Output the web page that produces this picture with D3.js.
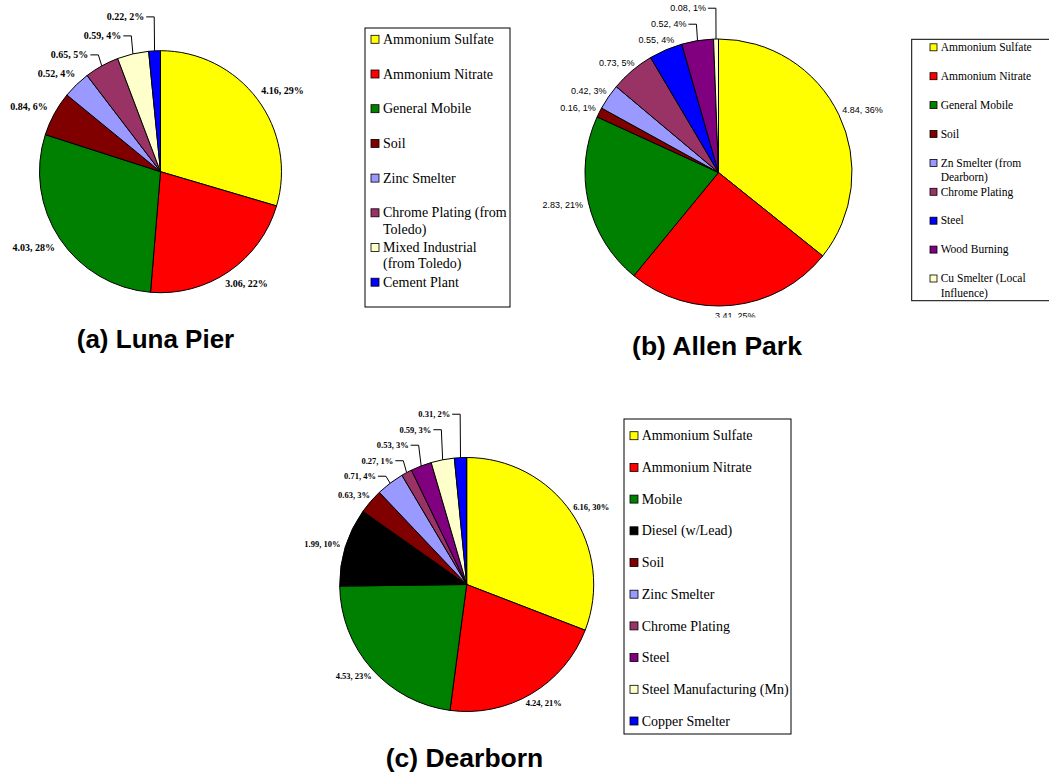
<!DOCTYPE html>
<html>
<head>
<meta charset="utf-8">
<script src="https://cdn.jsdelivr.net/npm/d3@7"></script>
<style>
  html, body { margin: 0; padding: 0; background: #fff; }
  svg { display: block; }
</style>
</head>
<body>
<svg id="chart" width="1049" height="772"></svg>
<script>
// ---------------- DATA ----------------
// (a) Luna Pier
const lunaCategories = ["Ammonium Sulfate", "Ammonium Nitrate", "General Mobile", "Soil",
  "Zinc Smelter", "Chrome Plating (from\nToledo)", "Mixed Industrial\n(from Toledo)", "Cement Plant"];
const lunaValues = [4.16, 3.06, 4.03, 0.84, 0.52, 0.65, 0.59, 0.22];
const lunaPercents = ["29%", "22%", "28%", "6%", "4%", "5%", "4%", "2%"];

// (b) Allen Park
const allenCategories = ["Ammonium Sulfate", "Ammonium Nitrate", "General Mobile", "Soil",
  "Zn Smelter (from\nDearborn)", "Chrome Plating", "Steel", "Wood Burning", "Cu Smelter (Local\nInfluence)"];
const allenValues = [4.84, 3.41, 2.83, 0.16, 0.42, 0.73, 0.55, 0.52, 0.08];
const allenPercents = ["36%", "25%", "21%", "1%", "3%", "5%", "4%", "4%", "1%"];

// (c) Dearborn
const dearbornCategories = ["Ammonium Sulfate", "Ammonium Nitrate", "Mobile", "Diesel (w/Lead)", "Soil",
  "Zinc Smelter", "Chrome Plating", "Steel", "Steel Manufacturing (Mn)", "Copper Smelter"];
const dearbornValues = [6.16, 4.24, 4.53, 1.99, 0.63, 0.71, 0.27, 0.53, 0.59, 0.31];
const dearbornPercents = ["30%", "21%", "23%", "10%", "3%", "4%", "1%", "3%", "3%", "2%"];

const chartTitles = ["(a) Luna Pier", "(b) Allen Park", "(c) Dearborn"];

// ---------------- STYLE ----------------
const C = {
  yellow: "#FFFF00", red: "#FF0000", green: "#008000", maroon: "#800000",
  lavender: "#9999FF", plum: "#993366", cream: "#FFFFCC", blue: "#0000FF",
  purple: "#800080", black: "#000000"
};
const lunaColors = [C.yellow, C.red, C.green, C.maroon, C.lavender, C.plum, C.cream, C.blue];
const allenColors = [C.yellow, C.red, C.green, C.maroon, C.lavender, C.plum, C.blue, C.purple, C.cream];
const dearbornColors = [C.yellow, C.red, C.green, C.black, C.maroon, C.lavender, C.plum, C.purple, C.cream, C.blue];

const serif = "'Liberation Serif', 'Times New Roman', serif";
const sans = "'Liberation Sans', Arial, Helvetica, sans-serif";

const svg = d3.select("#chart");
svg.append("rect").attr("width", 1049).attr("height", 772).attr("fill", "#fff");

function drawPie(cfg) {
  let g = svg.append("g");
  if (cfg.clip) {
    const id = "clip" + Math.random().toString(36).slice(2);
    svg.append("defs").append("clipPath").attr("id", id)
      .append("rect").attr("x", cfg.clip[0]).attr("y", cfg.clip[1])
      .attr("width", cfg.clip[2]).attr("height", cfg.clip[3]);
    g.attr("clip-path", `url(#${id})`);
  }
  const data = cfg.values.map((v, i) => ({ value: v, pct: cfg.percents[i], color: cfg.colors[i], i }));
  const pie = d3.pie().value(d => d.value).sort(null);
  const arcs = pie(data);
  const arc = d3.arc().innerRadius(0).outerRadius(cfg.r);

  const pg = g.append("g").attr("transform", `translate(${cfg.cx},${cfg.cy})`);
  pg.selectAll("path").data(arcs).join("path")
    .attr("d", arc)
    .attr("fill", d => d.data.color)
    .attr("stroke", "#000")
    .attr("stroke-width", 1)
    .attr("stroke-linejoin", "round");

  // labels
  const lg = g.append("g");
  let prevY = null;
  arcs.forEach((a, k) => {
    const th = (a.startAngle + a.endAngle) / 2;
    const s = Math.sin(th), c = Math.cos(th);
    const txt = lg.append("text")
      .attr("font-family", cfg.labelFont)
      .attr("font-size", cfg.labelSize)
      .attr("font-weight", cfg.labelWeight)
      .attr("fill", "#000")
      .text(`${a.data.value.toFixed(2)}, ${a.data.pct}`);
    const w = txt.node().getComputedTextLength();
    const h = cfg.labelSize;
    if (k < cfg.leaderStart) {
      const R = cfg.r + cfg.labelGap;
      const px = cfg.cx + R * s + (w / 2) * s;
      const py = cfg.cy - R * c - (h / 2) * c;
      txt.attr("x", px).attr("y", py + 0.35 * h).attr("text-anchor", "middle");
      prevY = py;
    } else {
      const y = prevY - (k === cfg.leaderStart ? cfg.leaderFirstGap : cfg.leaderSpacing);
      const ex = cfg.cx + cfg.r * s, ey = cfg.cy - cfg.r * c;
      const elbowX = ex + 7 * s;
      const right = elbowX - 10;
      txt.attr("x", right).attr("y", y + 0.35 * h).attr("text-anchor", "end");
      lg.append("polyline")
        .attr("points", [[right + 2, y], [elbowX, y], [ex, ey]].map(p => p.join(",")).join(" "))
        .attr("fill", "none").attr("stroke", "#000").attr("stroke-width", 1);
      prevY = y;
    }
  });

  // legend
  const L = cfg.legend;
  svg.append("rect").attr("x", L.x).attr("y", L.y).attr("width", L.w).attr("height", L.h)
    .attr("fill", "#fff").attr("stroke", "#000").attr("stroke-width", 1);
  cfg.categories.forEach((name, i) => {
    const yc = L.y + L.first + i * L.spacing;
    svg.append("rect").attr("x", L.swX).attr("y", yc - L.sw / 2).attr("width", L.sw).attr("height", L.sw)
      .attr("fill", cfg.colors[i]).attr("stroke", "#000").attr("stroke-width", 0.8);
    const t = svg.append("text").attr("font-family", serif).attr("font-size", L.fs).attr("fill", "#000")
      .attr("x", L.textX).attr("y", yc + 0.33 * L.fs);
    name.split("\n").forEach((line, j) => {
      t.append("tspan").attr("x", L.textX).attr("dy", j === 0 ? 0 : L.lineH).text(line);
    });
  });

  // title
  svg.append("text").attr("x", cfg.title.x).attr("y", cfg.title.y)
    .attr("text-anchor", "middle").attr("font-family", sans).attr("font-weight", "bold")
    .attr("font-size", cfg.title.fs).attr("fill", "#000").text(cfg.title.text);
}

drawPie({
  categories: lunaCategories, values: lunaValues, percents: lunaPercents, colors: lunaColors,
  cx: 160.5, cy: 171.7, r: 121,
  labelFont: serif, labelSize: 10, labelWeight: "bold", labelGap: 10,
  leaderStart: 5, leaderFirstGap: 19, leaderSpacing: 19,
  legend: { x: 365, y: 28, w: 145, h: 279, first: 11.3, spacing: 34.7, swX: 371, sw: 8, textX: 383, fs: 14, lineH: 16.3 },
  title: { text: chartTitles[0], x: 155.5, y: 348, fs: 26 }
});

drawPie({
  categories: allenCategories, values: allenValues, percents: allenPercents, colors: allenColors,
  cx: 718.5, cy: 172.5, r: 133.5,
  labelFont: sans, labelSize: 9, labelWeight: "normal", labelGap: 6,
  leaderStart: 7, leaderFirstGap: 16, leaderSpacing: 16,
  clip: [540, 0, 509, 317.5],
  legend: { x: 911.7, y: 39.3, w: 145, h: 261.4, first: 8, spacing: 28.9, swX: 930, sw: 7, textX: 940.7, fs: 11.5, lineH: 14.6 },
  title: { text: chartTitles[1], x: 717, y: 355, fs: 26.5 }
});

drawPie({
  categories: dearbornCategories, values: dearbornValues, percents: dearbornPercents, colors: dearbornColors,
  cx: 466.7, cy: 584.5, r: 127,
  labelFont: serif, labelSize: 8.5, labelWeight: "bold", labelGap: 6,
  leaderStart: 5, leaderFirstGap: 18.5, leaderSpacing: 15.5,
  legend: { x: 624, y: 419, w: 167, h: 315, first: 16.7, spacing: 31.7, swX: 630, sw: 8, textX: 641.7, fs: 14, lineH: 16 },
  title: { text: chartTitles[2], x: 464.5, y: 766.7, fs: 26.5 }
});
</script>
</body>
</html>
